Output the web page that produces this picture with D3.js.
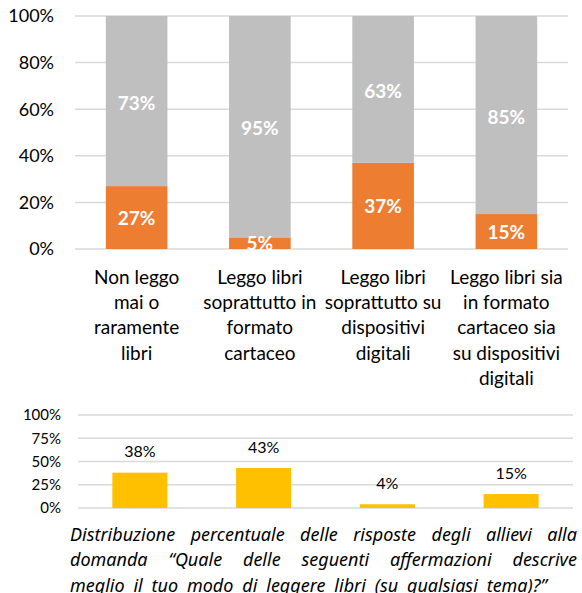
<!DOCTYPE html>
<html>
<head>
<meta charset="utf-8">
<script src="https://cdn.jsdelivr.net/npm/d3@7"></script>
<style>
  body { margin: 0; background: #fff; }
  svg { display: block; font-family: Lato, "Noto Sans", sans-serif; }
</style>
</head>
<body>
<div id="chart"></div>
<script>
// categories (tick labels, already broken in lines like in the picture)
const categories = ['c1', 'c2', 'c3', 'c4'];
const categoryLines = [
  ['Non leggo', 'mai o', 'raramente', 'libri'],
  ['Leggo libri', 'soprattutto in', 'formato', 'cartaceo'],
  ['Leggo libri', 'soprattutto su', 'dispositivi', 'digitali'],
  ['Leggo libri sia', 'in formato', 'cartaceo sia', 'su dispositivi', 'digitali']
];
// top stacked chart, percent
const orangeValues = [27, 5, 37, 15];
const grayValues = [73, 95, 63, 85];
const topTicks = [0, 20, 40, 60, 80, 100];
// bottom chart, percent
const yellowValues = [38, 43, 4, 15];
const bottomTicks = [0, 25, 50, 75, 100];

const captionLines = [
  'Distribuzione percentuale delle risposte degli allievi alla',
  'domanda \u201cQuale delle seguenti affermazioni descrive',
  'meglio il tuo modo di leggere libri (su qualsiasi tema)?\u201d'
];

const width = 582, height = 593;
const svg = d3.select('#chart').append('svg')
  .attr('width', width).attr('height', height);

// ---------- top chart ----------
const box1 = {left: 75, right: 568, top: 16, bottom: 249};
const x1 = d3.scaleBand().domain(categories).range([box1.left, box1.right])
  .paddingInner(0.5).paddingOuter(0.25);
const y1 = d3.scaleLinear().domain([0, 100]).range([box1.bottom, box1.top]);

const g1 = svg.append('g');
g1.selectAll('line.grid').data(topTicks).enter().append('line')
  .attr('x1', box1.left).attr('x2', box1.right)
  .attr('y1', d => y1(d)).attr('y2', d => y1(d))
  .attr('stroke', '#d9d9d9').attr('stroke-width', 1.5);

g1.selectAll('text.tick').data(topTicks).enter().append('text')
  .attr('x', 54).attr('y', d => y1(d))
  .attr('dy', '0.35em').attr('text-anchor', 'end')
  .attr('font-size', 18).attr('fill', '#000')
  .text(d => d + '%');

const stackData = categories.map((c, i) => ({cat: c, o: orangeValues[i], g: grayValues[i]}));

g1.selectAll('rect.orange').data(stackData).enter().append('rect')
  .attr('x', d => x1(d.cat)).attr('width', x1.bandwidth())
  .attr('y', d => y1(d.o)).attr('height', d => y1(0) - y1(d.o))
  .attr('fill', '#ed7d31');
g1.selectAll('rect.gray').data(stackData).enter().append('rect')
  .attr('x', d => x1(d.cat)).attr('width', x1.bandwidth())
  .attr('y', d => y1(d.o + d.g)).attr('height', d => y1(d.o) - y1(d.o + d.g))
  .attr('fill', '#bfbfbf');

g1.selectAll('text.olab').data(stackData).enter().append('text')
  .attr('x', d => x1(d.cat) + x1.bandwidth() / 2)
  .attr('y', d => y1(d.o / 2)).attr('dy', '0.38em')
  .attr('text-anchor', 'middle').attr('font-size', 19).attr('font-weight', 'bold')
  .attr('fill', '#fff').text(d => d.o + '%');
g1.selectAll('text.glab').data(stackData).enter().append('text')
  .attr('x', d => x1(d.cat) + x1.bandwidth() / 2)
  .attr('y', d => y1(d.o + d.g / 2)).attr('dy', '0.45em')
  .attr('text-anchor', 'middle').attr('font-size', 19).attr('font-weight', 'bold')
  .attr('fill', '#fff').text(d => d.g + '%');

// category labels
categories.forEach((c, i) => {
  const cx = x1(c) + x1.bandwidth() / 2;
  const t = g1.append('text')
    .attr('text-anchor', 'middle').attr('font-size', 19).attr('fill', '#000');
  categoryLines[i].forEach((line, k) => {
    t.append('tspan').attr('x', cx).attr('y', 284 + k * 25.2).text(line);
  });
});

// ---------- bottom chart ----------
const box2 = {left: 78, right: 573, top: 415, bottom: 508};
const x2 = d3.scaleBand().domain(categories).range([box2.left, box2.right])
  .paddingInner(0.555).paddingOuter(0.2775);
const y2 = d3.scaleLinear().domain([0, 100]).range([box2.bottom, box2.top]);

const g2 = svg.append('g');
g2.selectAll('line.grid').data(bottomTicks).enter().append('line')
  .attr('x1', box2.left).attr('x2', box2.right)
  .attr('y1', d => y2(d)).attr('y2', d => y2(d))
  .attr('stroke', '#d9d9d9').attr('stroke-width', 1.5);
g2.selectAll('text.tick').data(bottomTicks).enter().append('text')
  .attr('x', 61).attr('y', d => y2(d)).attr('dy', '0.35em')
  .attr('text-anchor', 'end').attr('font-size', 15).attr('fill', '#000')
  .text(d => d + '%');

const barData = categories.map((c, i) => ({cat: c, v: yellowValues[i]}));
g2.selectAll('rect.bar').data(barData).enter().append('rect')
  .attr('x', d => x2(d.cat)).attr('width', x2.bandwidth())
  .attr('y', d => y2(d.v)).attr('height', d => y2(0) - y2(d.v))
  .attr('fill', '#ffc000');
g2.selectAll('text.vlab').data(barData).enter().append('text')
  .attr('x', d => x2(d.cat) + x2.bandwidth() / 2)
  .attr('y', d => y2(d.v) - 21).attr('dy', '0.35em')
  .attr('text-anchor', 'middle').attr('font-size', 16).attr('fill', '#000')
  .text(d => d.v + '%');

// ---------- caption, justified (last line ends earlier) ----------
const capLeft = 70;
const capRights = [577, 577, 547];
captionLines.forEach((line, k) => {
  const y = 541 + k * 25.3;
  const words = line.split(' ');
  const tmp = words.map(w => svg.append('text')
    .attr('font-family', '"Noto Sans", sans-serif')
    .attr('font-size', 18).attr('font-style', 'italic').attr('fill', '#000')
    .attr('y', y).text(w));
  const widths = tmp.map(t => t.node().getComputedTextLength());
  const gap = (capRights[k] - capLeft - d3.sum(widths)) / (words.length - 1);
  let xx = capLeft;
  tmp.forEach((t, j) => {
    t.attr('x', xx);
    xx += widths[j] + gap;
  });
});
</script>
</body>
</html>
